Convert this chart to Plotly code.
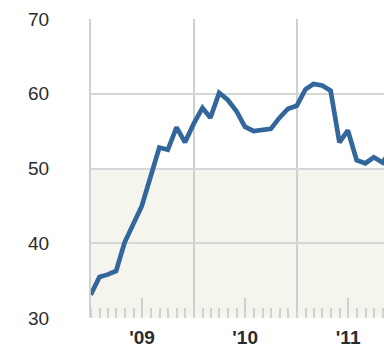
import pandas as pd
import plotly.graph_objects as go

# Monthly index values (Dec 2008 .. Nov 2011)
values = [33.1, 35.5, 35.8, 36.3, 40.1, 42.6, 45.0, 48.9, 52.8, 52.5, 55.5, 53.5,
          56.0, 58.1, 56.8, 60.1, 59.2, 57.7, 55.6, 55.0, 55.2, 55.3, 56.8, 58.0,
          58.4, 60.6, 61.3, 61.1, 60.4, 53.5, 55.1, 51.1, 50.7, 51.5, 50.8, 52.5]
dates = pd.date_range("2008-12-31", periods=len(values), freq="ME")

year_lines = ["2010-01-01", "2011-01-01"]
year_label_pos = ["2009-07-01", "2010-07-01", "2011-07-01"]
year_labels = ["'09", "'10", "'11"]
y_ticks = [30, 40, 50, 60, 70]
band_low, band_high = 30, 50
x_range = ["2009-01-01", "2011-11-05"]

FONT = "Liberation Sans, Arial, Helvetica, sans-serif"
GRID = "#d6d6d6"

fig = go.Figure()
fig.add_trace(go.Scatter(x=dates, y=values, mode="lines",
                         line=dict(color="#33679c", width=4.7), hoverinfo="skip",
                         cliponaxis=True))
fig.add_trace(go.Scatter(x=[dates[0]], y=[values[0]], xaxis="x2", mode="markers",
                         marker=dict(opacity=0), hoverinfo="skip", showlegend=False))

fig.add_shape(type="rect", xref="x domain", yref="y", x0=0, x1=1,
              y0=band_low, y1=band_high, fillcolor="#f5f5ed", line_width=0, layer="below")

fig.update_layout(
    width=384, height=350,
    margin=dict(l=91, r=0, t=19, b=32, autoexpand=False),
    paper_bgcolor="white", plot_bgcolor="rgba(0,0,0,0)",
    showlegend=False,
    xaxis=dict(type="date", range=x_range, tickvals=year_lines, automargin=False,
               showticklabels=False, ticks="", showgrid=True,
               gridcolor="#cfcfcf", gridwidth=2, zeroline=False,
               minor=dict(dtick="M1", tick0="2009-01-01", ticks="inside",
                          ticklen=10, tickcolor="#d0d0d0", tickwidth=2, showgrid=False)),
    xaxis2=dict(type="date", range=x_range, overlaying="x", side="bottom",
                tickvals=year_label_pos, ticktext=year_labels, automargin=False,
                ticks="inside", ticklen=20, tickcolor="#d0d0d0", tickwidth=2,
                showgrid=False, zeroline=False, ticklabelstandoff=6,
                tickfont=dict(family=FONT, size=19, color="#2b2b2b", weight="bold")),
    yaxis=dict(range=[30, 70], tickvals=y_ticks, showgrid=True, gridcolor=GRID,
               gridwidth=2, zeroline=False, showline=True, linecolor="#d0d0d0",
               linewidth=2, ticks="outside", ticklen=36, tickcolor="rgba(0,0,0,0)",
               automargin=False,
               tickfont=dict(family=FONT, size=19, color="#2b2b2b")),
)

fig.write_html("out.html", config={"displayModeBar": False, "staticPlot": True})

# remove the default page margin so the figure sits at the window's corner
with open("out.html", encoding="utf-8") as f:
    html = f.read()
html = html.replace("<head>", "<head><style>html,body{margin:0;padding:0;overflow:hidden;}</style>", 1)
with open("out.html", "w", encoding="utf-8") as f:
    f.write(html)
